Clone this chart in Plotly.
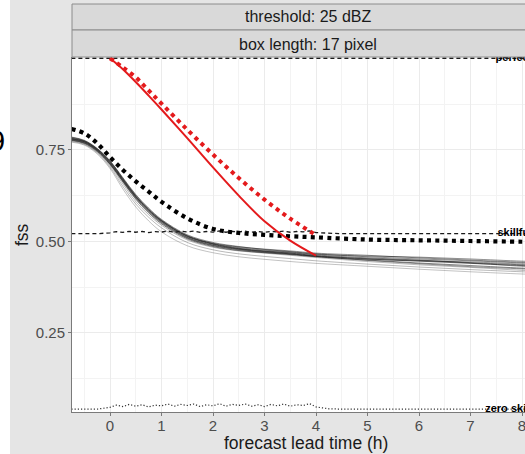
import numpy as np
import plotly.graph_objects as go

# ---------------------------------------------------------------- data
lead = [-0.75, -0.5, -0.25, 0, 0.25, 0.5, 0.75, 1, 1.5, 2, 2.5, 3, 3.5, 4, 5, 6, 7, 8, 8.5]

# FSS of individual ensemble members
member_fss = [
    [0.780, 0.772, 0.750, 0.715, 0.668, 0.622, 0.585, 0.555, 0.513, 0.492, 0.480, 0.473, 0.468, 0.461, 0.452, 0.446, 0.440, 0.434, 0.432],
    [0.785, 0.776, 0.754, 0.720, 0.674, 0.628, 0.591, 0.560, 0.518, 0.497, 0.486, 0.478, 0.472, 0.466, 0.458, 0.452, 0.447, 0.441, 0.438],
    [0.776, 0.768, 0.746, 0.710, 0.662, 0.615, 0.578, 0.548, 0.507, 0.486, 0.475, 0.469, 0.464, 0.458, 0.449, 0.441, 0.434, 0.427, 0.424],
    [0.773, 0.765, 0.742, 0.703, 0.650, 0.602, 0.566, 0.537, 0.497, 0.477, 0.466, 0.459, 0.453, 0.447, 0.438, 0.430, 0.423, 0.417, 0.414],
    [0.771, 0.763, 0.739, 0.699, 0.643, 0.594, 0.556, 0.526, 0.488, 0.469, 0.458, 0.451, 0.445, 0.440, 0.432, 0.424, 0.417, 0.411, 0.409],
    [0.782, 0.774, 0.752, 0.718, 0.672, 0.626, 0.589, 0.558, 0.516, 0.494, 0.483, 0.476, 0.471, 0.465, 0.460, 0.457, 0.452, 0.446, 0.444],
    [0.779, 0.771, 0.749, 0.713, 0.666, 0.620, 0.583, 0.553, 0.511, 0.490, 0.479, 0.472, 0.466, 0.459, 0.448, 0.439, 0.431, 0.425, 0.422],
    [0.784, 0.775, 0.753, 0.719, 0.671, 0.624, 0.587, 0.557, 0.515, 0.495, 0.485, 0.479, 0.474, 0.468, 0.462, 0.455, 0.449, 0.443, 0.440],
    [0.777, 0.769, 0.747, 0.711, 0.664, 0.617, 0.580, 0.550, 0.509, 0.488, 0.477, 0.470, 0.465, 0.459, 0.451, 0.447, 0.444, 0.438, 0.435],
    [0.775, 0.767, 0.744, 0.707, 0.657, 0.609, 0.573, 0.544, 0.504, 0.484, 0.474, 0.468, 0.462, 0.456, 0.445, 0.436, 0.429, 0.421, 0.418],
    [0.781, 0.773, 0.751, 0.716, 0.669, 0.623, 0.586, 0.556, 0.514, 0.493, 0.481, 0.474, 0.469, 0.463, 0.455, 0.449, 0.442, 0.436, 0.433],
    [0.778, 0.770, 0.748, 0.712, 0.665, 0.619, 0.582, 0.552, 0.510, 0.489, 0.478, 0.471, 0.466, 0.460, 0.453, 0.448, 0.441, 0.432, 0.429],
]
member_alpha = [0.65, 0.55, 0.6, 0.35, 0.3, 0.55, 0.5, 0.55, 0.45, 0.35, 0.6, 0.5]

# ensemble FSS
ensemble_fss = [0.807, 0.795, 0.768, 0.730, 0.695, 0.664, 0.636, 0.608, 0.563, 0.534, 0.523,
                0.518, 0.514, 0.511, 0.505, 0.503, 0.501, 0.499, 0.498]

# persistence (nowcast) FSS
persist_lead = [0, 0.25, 0.5, 0.75, 1, 1.5, 2, 2.5, 3, 3.5, 4]
persist_fss = [1.0, 0.970, 0.935, 0.898, 0.860, 0.782, 0.702, 0.625, 0.555, 0.502, 0.461]
persist_ens_fss = [1.0, 0.975, 0.948, 0.912, 0.876, 0.805, 0.737, 0.673, 0.614, 0.562, 0.517]

# observed base rate (random-forecast FSS) and the derived useful-skill level
base_lead = [-0.75, -0.5, -0.25] + [round(t, 3) for t in np.arange(0, 4.001, 0.125)] + \
            [4.25, 4.5, 5, 6, 7, 8, 8.5]
base_rate = [0.042, 0.042, 0.042,
             0.047, 0.053, 0.049, 0.055, 0.050, 0.054, 0.048, 0.053, 0.051, 0.056, 0.050,
             0.055, 0.052, 0.056, 0.049, 0.054, 0.051, 0.057, 0.050, 0.055, 0.052, 0.056,
             0.050, 0.054, 0.049, 0.055, 0.051, 0.056, 0.050, 0.054, 0.052, 0.057, 0.048,
             0.043, 0.042, 0.042, 0.042, 0.042, 0.042, 0.042]
useful = [0.5 + f / 2 for f in base_rate]

ref_labels = ["perfect", "skillful", "zero skill"]
ref_label_x = 8.2

strip_top = "threshold: 25 dBZ"
strip_bottom = "box length: 17 pixel"
x_title = "forecast lead time (h)"
y_title = "fss"
x_ticks = [0, 1, 2, 3, 4, 5, 6, 7, 8]
y_ticks = [0.25, 0.50, 0.75]

# ---------------------------------------------------------------- geometry
W, H = 525, 454
L, R, T, B = 72, 0, 57, 42
PW, PH = W - L - R, H - T - B


def px(xp):
    return (xp - L) / PW


def py(yp):
    return (H - B - yp) / PH


RED = "#e41a1c"
fig = go.Figure()

for vals, a in zip(member_fss, member_alpha):
    fig.add_trace(go.Scatter(x=lead, y=vals, mode="lines",
                             line=dict(color=f"rgba(0,0,0,{a})", width=0.8, shape="spline"),
                             hoverinfo="skip", showlegend=False))

fig.add_trace(go.Scatter(x=lead, y=[1.0] * len(lead), mode="lines",
                         line=dict(color="#1a1a1a", width=1.3, dash="4px,3px"),
                         hoverinfo="skip", showlegend=False))
fig.add_trace(go.Scatter(x=base_lead, y=useful, mode="lines",
                         line=dict(color="#1a1a1a", width=1.3, dash="4px,3px"),
                         hoverinfo="skip", showlegend=False))
fig.add_trace(go.Scatter(x=base_lead, y=base_rate, mode="lines",
                         line=dict(color="#333", width=1.2, dash="1.2px,2px"),
                         hoverinfo="skip", showlegend=False))

fig.add_trace(go.Scatter(x=lead, y=ensemble_fss, mode="lines",
                         line=dict(color="black", width=4.2, dash="4px,4.3px", shape="spline"),
                         hoverinfo="skip", showlegend=False))
fig.add_trace(go.Scatter(x=persist_lead, y=persist_ens_fss, mode="lines",
                         line=dict(color=RED, width=4.0, dash="4px,4.3px", shape="spline"),
                         hoverinfo="skip", showlegend=False))
fig.add_trace(go.Scatter(x=persist_lead, y=persist_fss, mode="lines",
                         line=dict(color=RED, width=2.0, shape="spline"),
                         hoverinfo="skip", showlegend=False))

fig.add_trace(go.Scatter(x=[ref_label_x] * 3, y=[1.0, useful[-1], base_rate[-1]],
                         mode="text", text=ref_labels, textposition="middle left",
                         textfont=dict(family="Liberation Sans", size=11, color="black", weight="bold"),
                         cliponaxis=True, hoverinfo="skip", showlegend=False))

axis_common = dict(
    showline=True, linecolor="#7a7a7a", linewidth=1,
    ticks="outside", ticklen=3, tickwidth=1, tickcolor="#7a7a7a",
    tickfont=dict(family="Liberation Sans", size=15, color="#4d4d4d"),
    ticklabeloverflow="allow",
    showgrid=True, gridcolor="#ebebeb", gridwidth=1.1, zeroline=False,
)

fig.update_xaxes(range=[-0.738, 8.058], tickvals=x_ticks, ticklabelstandoff=-3,
                 minor=dict(dtick=0.5, tick0=0, showgrid=True, gridcolor="#f3f3f3", gridwidth=0.7, ticks=""),
                 **axis_common)
fig.update_yaxes(range=[0.0342, 1.0034], tickvals=y_ticks, ticktext=[f"{v:.2f}" for v in y_ticks],
                 minor=dict(dtick=0.125, tick0=0, showgrid=True, gridcolor="#f3f3f3", gridwidth=0.7, ticks=""),
                 **axis_common)

shapes = [
    # narrow white band on the far left
    dict(type="rect", xref="paper", yref="paper", x0=px(-20), x1=px(10), y0=py(470), y1=py(-20),
         fillcolor="white", line=dict(width=0), layer="above"),
    # facet strips
    dict(type="rect", xref="paper", yref="paper", x0=0, x1=px(560), y0=py(30), y1=py(4),
         fillcolor="#d9d9d9", line=dict(color="#8c8c8c", width=1), layer="above"),
    dict(type="rect", xref="paper", yref="paper", x0=0, x1=px(560), y0=1, y1=py(30),
         fillcolor="#d9d9d9", line=dict(color="#8c8c8c", width=1), layer="above"),
]

font_main = dict(family="Liberation Sans", color="#1a1a1a")
annotations = [
    dict(text=strip_top, x=px(308), y=py(17), xref="paper", yref="paper", showarrow=False,
         xanchor="center", yanchor="middle", font=dict(size=16, **font_main)),
    dict(text=strip_bottom, x=px(308), y=py(44), xref="paper", yref="paper", showarrow=False,
         xanchor="center", yanchor="middle", font=dict(size=16, **font_main)),
    dict(text=x_title, x=px(306), y=py(443), xref="paper", yref="paper", showarrow=False,
         xanchor="center", yanchor="middle", font=dict(size=17.5, **font_main)),
    dict(text=y_title, x=px(22), y=py(235), xref="paper", yref="paper", showarrow=False,
         textangle=-90, xanchor="center", yanchor="middle", font=dict(size=17.5, **font_main)),
    dict(text="9", x=px(7), y=py(140.5), xref="paper", yref="paper", showarrow=False,
         xanchor="right", yanchor="middle", font=dict(family="Liberation Sans", size=29, color="black")),
]

fig.update_layout(
    width=W, height=H,
    margin=dict(l=L, r=R, t=T, b=B, pad=0),
    paper_bgcolor="#e5e5e5", plot_bgcolor="white",
    shapes=shapes, annotations=annotations,
    showlegend=False,
)

fig.write_html("out.html")
